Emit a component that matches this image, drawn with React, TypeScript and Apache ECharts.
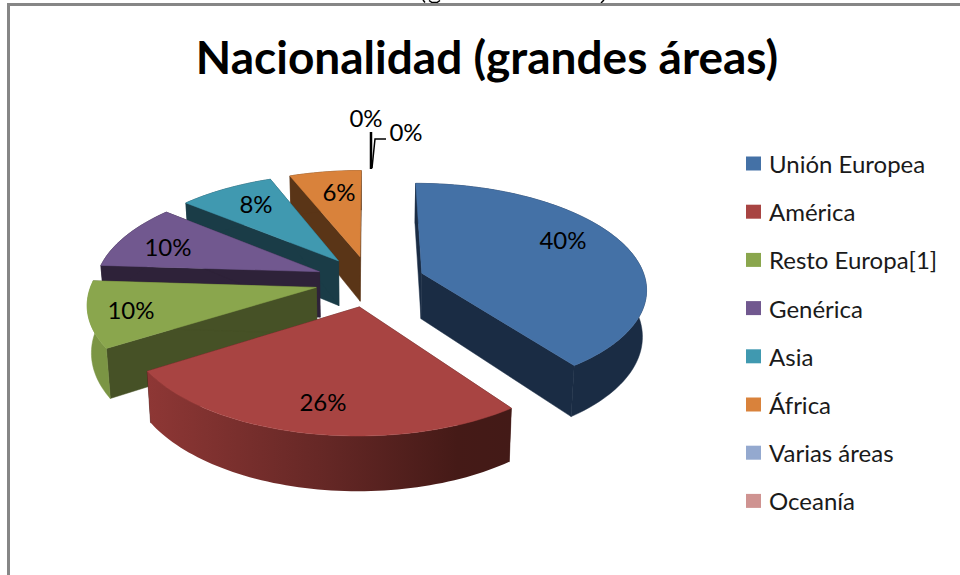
import React, { useEffect, useRef } from "react";
import * as echarts from "echarts";

const titleText = "Nacionalidad (grandes áreas)";
const categories = ["Unión Europea", "América", "Resto Europa[1]", "Genérica", "Asia", "África", "Varias áreas", "Oceanía"];
const shares = [40, 26, 10, 10, 8, 6, 0, 0];
const topColors = ["#4471A6", "#A84442", "#8AA64D", "#71588F", "#4099B0", "#D9823B", "#94A9CF", "#CF9391"];
const edgeColors = ["#1A2C44", "#431A17", "#465126", "#2E2239", "#1A3C47", "#5A3517", "#3A4558", "#553A39"];
const rimColors = ["#1A2C44", "#8A3533", "#7B9544", "#2E2239", "#1A3C47", "#5A3517", "#3A4558", "#553A39"];
const drawOrder = [5, 4, 3, 2, 0, 1, 6, 7];
const labelAnchors = [[563, 239], [323, 401], [131, 309], [168, 246], [256, 203], [339, 191], [366, 117], [406, 131]];

const FONT = "Lato, Carlito, Calibri, sans-serif";
const CX = 370, CY = 281, R = 224, TILT = 0.464, PERSP = 0.135, EXPLODE = 55, DEPTH = 46, FOOT = 0.985;
const total = shares.reduce((a, b) => a + b, 0);

function project(X: number, Y: number, down: boolean): number[] {
  const f = 1 / (1 + (PERSP * Y) / R);
  const x = X * f;
  const y = -TILT * Y * f;
  return down ? [CX + x * FOOT, CY + y + DEPTH * f] : [CX + x, CY + y];
}

function sliceItem(idx: number, value: number) {
  const before = shares.slice(0, idx).reduce((a, b) => a + b, 0);
  const a0 = (before / total) * Math.PI * 2;
  const a1 = ((before + value) / total) * Math.PI * 2;
  const mid = (a0 + a1) / 2;
  const ox = EXPLODE * Math.sin(mid);
  const oy = EXPLODE * Math.cos(mid);
  const children: any[] = [];
  if (value > 0) {
    const steps = Math.max(6, Math.round((a1 - a0) * 40));
    const rimTop: number[][] = [];
    const rimBot: number[][] = [];
    for (let i = 0; i <= steps; i++) {
      const a = a0 + ((a1 - a0) * i) / steps;
      const X = ox + R * Math.sin(a);
      const Y = oy + R * Math.cos(a);
      rimTop.push(project(X, Y, false));
      rimBot.push(project(X, Y, true));
    }
    const apexTop = project(ox, oy, false);
    const apexBot = project(ox, oy, true);
    const wall = (edgeT: number[], edgeB: number[]) => ({
      type: "polygon",
      shape: { points: [apexTop, edgeT, edgeB, apexBot] },
      style: { fill: edgeColors[idx], stroke: edgeColors[idx], lineWidth: 0.5 },
    });
    children.push(wall(rimTop[0], rimBot[0]));
    children.push(wall(rimTop[steps], rimBot[steps]));
    const rimFill =
      idx === 1
        ? new echarts.graphic.LinearGradient(0, 0, 1, 0, [
            { offset: 0, color: "#8E3735" },
            { offset: 0.5, color: "#642725" },
            { offset: 0.85, color: "#451A17" },
            { offset: 1, color: "#431A17" },
          ])
        : rimColors[idx];
    children.push({
      type: "polygon",
      shape: { points: [...rimTop, ...rimBot.slice().reverse()] },
      style: { fill: rimFill, stroke: idx === 1 ? undefined : rimColors[idx], lineWidth: 0.5 },
    });
    children.push({
      type: "polygon",
      shape: { points: [apexTop, ...rimTop] },
      style: { fill: topColors[idx], stroke: topColors[idx], lineWidth: 0.5 },
    });
  }
  const [lx, ly] = labelAnchors[idx];
  children.push({
    type: "text",
    z2: 50,
    style: {
      x: lx,
      y: ly,
      text: `${value}%`,
      fill: "#000",
      fontFamily: FONT,
      fontSize: 24,
      align: "center",
      verticalAlign: "middle",
    },
  });
  return { type: "group", children };
}

export default function App() {
  const ref = useRef<HTMLDivElement>(null);
  useEffect(() => {
    const chart = echarts.init(ref.current!, undefined, { renderer: "svg" });
    chart.setOption({
      animation: false,
      backgroundColor: "#ffffff",
      title: {
        text: titleText,
        left: 482,
        top: 28,
        textAlign: "center",
        textStyle: { fontFamily: FONT, fontWeight: "bold", fontSize: 46, color: "#000" },
      },
      legend: {
        data: categories,
        orient: "vertical",
        left: 746,
        top: 151.5,
        padding: 0,
        icon: "rect",
        itemWidth: 15,
        itemHeight: 14,
        itemGap: 24.2,
        selectedMode: false,
        textStyle: { fontFamily: FONT, fontSize: 24, color: "#1a1a1a", padding: [0, 0, 0, 3] },
      },
      graphic: [
        { type: "polyline", shape: { points: [[423, 0], [425, 2.5]] }, style: { fill: "none", stroke: "#000", lineWidth: 1.5 } },
        { type: "polyline", shape: { points: [[429, 0.5], [432, 2.5], [437, 2.5], [440, 0.5]] }, style: { fill: "none", stroke: "#000", lineWidth: 1.5 } },
        { type: "polyline", shape: { points: [[604, 0], [601, 3]] }, style: { fill: "none", stroke: "#000", lineWidth: 1.5 } },
        { type: "polyline", shape: { points: [[8.5, 575], [8.5, 4.5], [960, 4.5]] }, style: { fill: "none", stroke: "#868686", lineWidth: 3 } },
        { type: "line", shape: { x1: 371, y1: 132, x2: 371, y2: 169 }, style: { stroke: "#000", lineWidth: 2.5 } },
        { type: "polyline", shape: { points: [[372, 168], [375, 139], [386, 139]] }, style: { fill: "none", stroke: "#000", lineWidth: 1.5 } },
      ],
      series: drawOrder.map((idx) => ({
        type: "custom",
        name: categories[idx],
        coordinateSystem: "none",
        itemStyle: { color: topColors[idx] },
        data: [[shares[idx]]],
        renderItem: (_p: any, api: any) => sliceItem(idx, api.value(0)),
      })),
    });
    return () => chart.dispose();
  }, []);
  return <div ref={ref} style={{ position: "absolute", left: 0, top: 0, width: 960, height: 575 }} />;
}
